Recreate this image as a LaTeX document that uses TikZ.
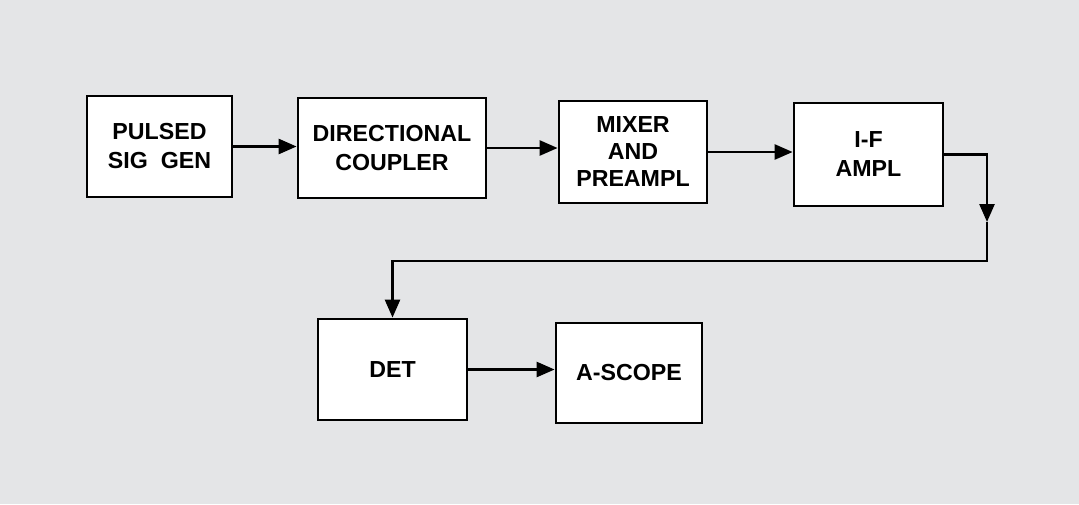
\documentclass[tikz,border=0pt]{standalone}
\usepackage{fontspec}
\setmainfont{Liberation Sans}
\usetikzlibrary{arrows.meta}
\definecolor{paper}{rgb}{0.895,0.897,0.905}

\begin{document}
\begin{tikzpicture}[x=0.5pt, y=-0.5pt,
	blk/.style={draw, fill=white, line width=1.4pt, align=center, inner sep=0pt,
		font=\fontsize{11.6}{14.5}\selectfont\bfseries},
	wire/.style={line width=1.3pt, -{Triangle[length=9pt,width=7.5pt]}}]
	\fill[paper] (0,0) rectangle (1079,504);
	\useasboundingbox (0,0) rectangle (1079,504);

	\node[blk, minimum width=72.5pt, minimum height=50.5pt] (gen) at (159.5,146.5) {PULSED\\SIG\ \ GEN};
	\node[blk, minimum width=94pt, minimum height=50pt] (coupler) at (392,148) {DIRECTIONAL\\COUPLER};
	\node[blk, minimum width=74pt, minimum height=51pt, font=\fontsize{11.6}{13.5}\selectfont\bfseries] (mixer) at (633,152) {MIXER\\AND\\PREAMPL};
	\node[blk, minimum width=74.5pt, minimum height=51.5pt] (ampl) at (868.5,154.5) {I-F\\AMPL};
	\node[blk, minimum width=74.5pt, minimum height=50.5pt] (det) at (392.5,369.5) {DET};
	\node[blk, minimum width=73pt, minimum height=50pt] (scope) at (629,373) {A-SCOPE};

	\coordinate (tipR) at (987,222);
	\coordinate (bendR) at (987,261);

	\draw[wire] (gen.east) -- (gen.east -| coupler.west);
	\draw[wire] (coupler.east) -- (coupler.east -| mixer.west);
	\draw[wire] (mixer.east) -- (mixer.east -| ampl.west);
	\draw[wire] (ampl.east) -| (tipR);
	\draw[wire] (tipR) -- (bendR) -| (det.north);
	\draw[wire] (det.east) -- (det.east -| scope.west);

\end{tikzpicture}
\end{document}
